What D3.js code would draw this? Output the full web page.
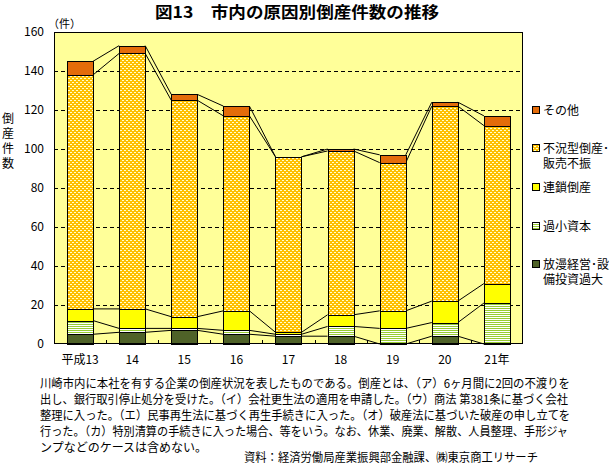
<!DOCTYPE html>
<html>
<head>
<meta charset="utf-8">
<script src="https://cdn.jsdelivr.net/npm/d3@7"></script>
<style>
  body { margin: 0; background: #fff; }
  text { font-family: "Noto Sans CJK JP", "Liberation Sans", sans-serif; }
</style>
</head>
<body>
<div id="canvas"></div>
<script>
// data
const years = ["平成13", "14", "15", "16", "17", "18", "19", "20", "21年"];
const mismanagement = [5, 6, 7, 5, 4, 4, 0, 4, 0];      // 放漫経営・設備投資過大
const undercapital = [7, 2, 1, 2, 1, 5, 8, 7, 21];      // 過小資本
const chain = [6, 10, 6, 10, 1, 6, 9, 11, 10];          // 連鎖倒産
const recession = [120, 131, 111, 100, 90, 84, 76, 100, 81]; // 不況型倒産・販売不振
const other = [7, 4, 3, 5, 0, 1, 4, 2, 5];              // その他
const yTicks = [0, 20, 40, 60, 80, 100, 120, 140, 160];

const keys = ["mis", "under", "chain", "rec", "other"];
const legendLabels = {
  other: ["その他"],
  rec: ["不況型倒産･", "販売不振"],
  chain: ["連鎖倒産"],
  under: ["過小資本"],
  mis: ["放漫経営･設", "備投資過大"]
};

const notes = [
  "川崎市内に本社を有する企業の倒産状況を表したものである。倒産とは、（ア）6ヶ月間に2回の不渡りを",
  "出し、銀行取引停止処分を受けた。（イ）会社更生法の適用を申請した。（ウ）商法 第381条に基づく会社",
  "整理に入った。（エ）民事再生法に基づく再生手続きに入った。（オ）破産法に基づいた破産の申し立てを",
  "行った。（カ）特別清算の手続きに入った場合、等をいう。なお、休業、廃業、解散、人員整理、手形ジャ",
  "ンプなどのケースは含めない。"
];
const source = "資料：経済労働局産業振興部金融課、㈱東京商工リサーチ";

const table = years.map((y, i) => ({
  year: y, mis: mismanagement[i], under: undercapital[i], chain: chain[i],
  rec: recession[i], other: other[i]
}));

const width = 613, height = 465;
const margin = { top: 32, left: 54, bottom: 121, right: 90 };
const iwidth = width - margin.left - margin.right;
const iheight = height - margin.top - margin.bottom;

const svg = d3.select("#canvas").append("svg")
  .attr("width", width).attr("height", height);

const defs = svg.append("defs");
const dots = defs.append("pattern").attr("id", "dots")
  .attr("patternUnits", "userSpaceOnUse").attr("width", 4).attr("height", 4);
dots.append("rect").attr("width", 4).attr("height", 4).attr("fill", "#ffbf00");
dots.append("rect").attr("x", 0).attr("y", 0).attr("width", 2).attr("height", 1).attr("fill", "#ffffcc");
dots.append("rect").attr("x", 2).attr("y", 2).attr("width", 2).attr("height", 1).attr("fill", "#ffffcc");

const stripes = defs.append("pattern").attr("id", "stripes")
  .attr("patternUnits", "userSpaceOnUse").attr("width", 4).attr("height", 2);
stripes.append("rect").attr("width", 4).attr("height", 2).attr("fill", "#ffffff");
stripes.append("rect").attr("width", 4).attr("height", 1).attr("fill", "#99cc33");

const fills = {
  mis: "#4f6228", under: "url(#stripes)", chain: "#ffff00",
  rec: "url(#dots)", other: "#e46c0a"
};

// title
svg.append("text").attr("x", 297).attr("y", 18)
  .attr("text-anchor", "middle").attr("font-size", 16).attr("font-weight", "bold")
  .attr("textLength", 284).attr("lengthAdjust", "spacingAndGlyphs")
  .text("図13　市内の原因別倒産件数の推移");

svg.append("text").attr("x", 48).attr("y", 28).attr("font-size", 11).text("（件）");

svg.append("text").attr("x", 8).attr("y", 112)
  .attr("writing-mode", "tb").attr("font-size", 12).attr("letter-spacing", 3)
  .text("倒産件数");

const g = svg.append("g").attr("transform", `translate(${margin.left}, ${margin.top})`);

const x = d3.scaleBand().domain(years).range([0, iwidth]).paddingInner(0.5).paddingOuter(0.25);
const y = d3.scaleLinear().domain([0, 160]).range([iheight, 0]);

g.append("rect").attr("width", iwidth).attr("height", iheight).attr("fill", "#ffff99");

// gridlines
g.append("g")
  .selectAll("line").data(yTicks.filter(t => t > 0 && t < 160)).join("line")
  .attr("x1", 0).attr("x2", iwidth)
  .attr("y1", d => Math.round(y(d)) + 0.5).attr("y2", d => Math.round(y(d)) + 0.5)
  .attr("stroke", "#000").attr("stroke-dasharray", "4,3");

const series = d3.stack().keys(keys)(table);

// series lines between bars
series.forEach(s => {
  for (let i = 0; i < s.length - 1; i++) {
    g.append("line")
      .attr("x1", x(years[i]) + x.bandwidth()).attr("y1", y(s[i][1]))
      .attr("x2", x(years[i + 1])).attr("y2", y(s[i + 1][1]))
      .attr("stroke", "#000").attr("stroke-width", 1);
  }
});

g.selectAll("g.layer").data(series).join("g")
  .attr("class", "layer")
  .attr("fill", d => fills[d.key])
  .selectAll("rect").data(d => d.filter(p => p[1] - p[0] > 0)).join("rect")
  .attr("x", d => Math.round(x(d.data.year)) + 0.5)
  .attr("y", d => Math.round(y(d[1])) + 0.5)
  .attr("width", Math.round(x.bandwidth()))
  .attr("height", d => Math.round(y(d[0])) - Math.round(y(d[1])))
  .attr("stroke", "#000").attr("stroke-width", 1);

// category boundary ticks
g.append("g").selectAll("line").data(d3.range(1, years.length)).join("line")
  .attr("x1", i => Math.round(i * x.step()) + 0.5).attr("x2", i => Math.round(i * x.step()) + 0.5)
  .attr("y1", iheight).attr("y2", iheight - 4)
  .attr("stroke", "#000");

// frame
g.append("rect").attr("x", 0.5).attr("y", 0.5)
  .attr("width", iwidth - 1).attr("height", iheight - 1)
  .attr("fill", "none").attr("stroke", "#000");

// y axis labels
g.append("g")
  .call(d3.axisLeft(y).tickValues(yTicks).tickSize(0).tickPadding(10))
  .call(a => a.select(".domain").remove())
  .selectAll("text")
  .attr("font-family", "'Liberation Sans', Arial, sans-serif").attr("font-size", 12);

// x axis labels
g.append("g").attr("transform", `translate(0, ${iheight})`)
  .call(d3.axisBottom(x).tickSize(0).tickPadding(11))
  .call(a => a.select(".domain").remove())
  .selectAll("text")
  .attr("font-family", "'Liberation Sans', 'Noto Sans CJK JP', sans-serif").attr("font-size", 12);

// legend
const legendY = { other: 110, rec: 148, chain: 187, under: 226, mis: 264 };
const legend = svg.append("g");
keys.forEach(k => {
  const ly = legendY[k];
  legend.append("rect").attr("x", 532.5).attr("y", ly - 3.5).attr("width", 7).attr("height", 7)
    .attr("fill", fills[k]).attr("stroke", "#000");
  const lt = legend.append("text").attr("x", 543).attr("y", ly + 5).attr("font-size", 12);
  legendLabels[k].forEach((t, j) => {
    lt.append("tspan").attr("x", 543).attr("dy", j === 0 ? 0 : 15).text(t);
  });
});

// notes
const noteWidths = [530, 528, 530, 528, null];
notes.forEach((t, i) => {
  const tx = svg.append("text").attr("x", 40).attr("y", 388 + i * 16)
    .attr("font-size", 12).text(t);
  if (noteWidths[i]) tx.attr("textLength", noteWidths[i]).attr("lengthAdjust", "spacingAndGlyphs");
});
svg.append("text").attr("x", 244).attr("y", 462)
  .attr("font-size", 12).attr("textLength", 294).attr("lengthAdjust", "spacingAndGlyphs")
  .text(source);
</script>
</body>
</html>
